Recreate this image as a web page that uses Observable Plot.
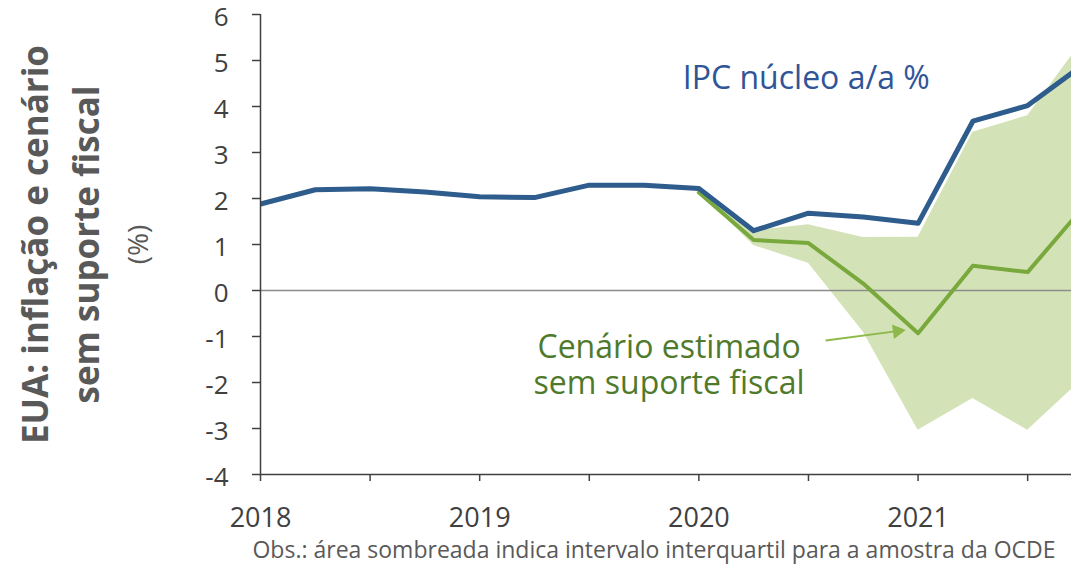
<!DOCTYPE html>
<html><head><meta charset="utf-8">
<script src="https://cdn.jsdelivr.net/npm/d3@7"></script>
<script src="https://cdn.jsdelivr.net/npm/@observablehq/plot@0.6"></script>
<style>body{margin:0;background:#fff;} #chart svg{display:block;}</style>
</head><body><div id="chart"></div>
<script>
// Quarterly observations (decimal years)
const quarters = [2018, 2018.25, 2018.5, 2018.75, 2019, 2019.25, 2019.5, 2019.75, 2020, 2020.25, 2020.5, 2020.75, 2021, 2021.25, 2021.5, 2021.75];
const ipcCore = [1.88, 2.19, 2.21, 2.14, 2.04, 2.02, 2.29, 2.29, 2.22, 1.30, 1.68, 1.60, 1.46, 3.68, 4.02, 4.90];

const scenarioQuarters = [2020, 2020.25, 2020.5, 2020.75, 2021, 2021.25, 2021.5, 2021.75];
const scenario = [2.13, 1.10, 1.03, 0.15, -0.93, 0.54, 0.40, 1.79];
const bandLow = [2.16, 0.98, 0.59, -0.90, -3.04, -2.35, -3.04, -1.93];
const bandHigh = [2.20, 1.30, 1.43, 1.15, 1.16, 3.44, 3.80, 5.42];

const yTicks = [-4, -3, -2, -1, 0, 1, 2, 3, 4, 5, 6];
const xTicks = [2018, 2018.5, 2019, 2019.5, 2020, 2020.5, 2021, 2021.5];
const yearLabels = [2018, 2019, 2020, 2021];

const titleLines = ["EUA: inflação e cenário", "sem suporte fiscal", "(%)"];
const ipcLabel = "IPC núcleo a/a %";
const scenarioLines = ["Cenário estimado", "sem suporte fiscal"];
const note = "Obs.: área sombreada indica intervalo interquartil para a amostra da OCDE";

const ipcData = quarters.map((q, i) => ({x: q, y: ipcCore[i]}));
const scenData = scenarioQuarters.map((q, i) => ({x: q, y: scenario[i], lo: bandLow[i], hi: bandHigh[i]}));
const arrowData = [{x1: 2020.578, y1: -1.087, x2: 2020.905, y2: -0.885}];

const blue = "#2e5c8c";
const greenLine = "#79a83c";
const greenText = "#4f7a2c";
const arrowGreen = "#8db84a";
const greyText = "#595959";

const chart = Plot.plot({
  width: 1071,
  height: 568,
  marginLeft: 260,
  marginRight: 0,
  marginTop: 14,
  marginBottom: 94,
  style: {fontFamily: "'Open Sans', sans-serif", background: "white", color: "#404040", overflow: "visible"},
  x: {domain: [2018, 2021.7], axis: null},
  y: {domain: [-4, 6], axis: null},
  marks: [
    Plot.areaY(scenData, {x: "x", y1: "lo", y2: "hi", fill: "#d3e3b7", clip: true}),
    Plot.ruleY([0], {stroke: "#8c8c8c", strokeWidth: 1.5}),
    Plot.lineY(scenData, {x: "x", y: "y", stroke: greenLine, strokeWidth: 4, clip: true}),
    Plot.lineY(ipcData, {x: "x", y: "y", stroke: blue, strokeWidth: 5, clip: true}),
    Plot.ruleX([2018], {stroke: "#404040", strokeWidth: 1.5}),
    Plot.ruleY([-4], {stroke: "#404040", strokeWidth: 1.5}),
    Plot.axisY({ticks: yTicks, tickSize: 8, text: null, strokeWidth: 1.5}),
    Plot.text(yTicks, {frameAnchor: "left", y: d => d, text: d => String(d), dx: -32, dy: 3, fontSize: 26, fill: "#404040", textAnchor: "end"}),
    Plot.axisX({ticks: xTicks, tickSize: 7, tickPadding: 26, tickFormat: d => yearLabels.includes(d) ? String(d) : "", fontSize: 27, strokeWidth: 1.5}),
    Plot.text([ipcLabel], {x: 2020.49, y: 4.37, text: d => d, fontSize: 32, fill: "#2f5597", textAnchor: "middle", lineAnchor: "bottom"}),
    Plot.text([scenarioLines[0]], {x: 2019.864, y: -1.46, text: d => d, fontSize: 32, fill: greenText, textAnchor: "middle", lineAnchor: "bottom"}),
    Plot.text([scenarioLines[1]], {x: 2019.864, y: -2.26, text: d => d, fontSize: 32, fill: greenText, textAnchor: "middle", lineAnchor: "bottom"}),
    Plot.link(arrowData, {x1: "x1", y1: "y1", x2: "x2", y2: "y2", stroke: arrowGreen, strokeWidth: 1.8}),
    Plot.dot(arrowData, {x: "x2", y: "y2", symbol: "triangle", r: 5.5, fill: arrowGreen, stroke: "none", rotate: 82.6}),
    Plot.text([titleLines[0]], {frameAnchor: "left", text: d => d, rotate: -90, dx: -213, fontSize: 35, fontWeight: "bold", fill: greyText, textAnchor: "middle", lineAnchor: "bottom"}),
    Plot.text([titleLines[1]], {frameAnchor: "left", text: d => d, rotate: -90, dx: -162, fontSize: 35, fontWeight: "bold", fill: greyText, textAnchor: "middle", lineAnchor: "bottom"}),
    Plot.text([titleLines[2]], {frameAnchor: "left", text: d => d, rotate: -90, dx: -113, fontSize: 28, fill: greyText, textAnchor: "middle", lineAnchor: "bottom"}),
    Plot.text([note], {frameAnchor: "bottom-right", text: d => d, dx: -16, dy: 83, fontSize: 23, fill: greyText, textAnchor: "end", lineAnchor: "bottom"})
  ]
});
document.getElementById("chart").appendChild(chart);
</script>
</body></html>
